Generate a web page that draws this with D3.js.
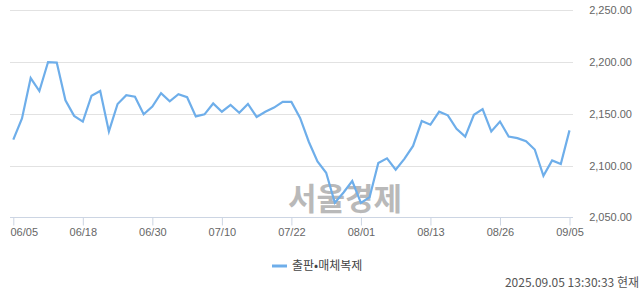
<html>
<head>
<meta charset="utf-8">
<script src="https://d3js.org/d3.v7.min.js"></script>
<style>
  body { margin: 0; background: #fff; }
  svg { display: block; }
</style>
</head>
<body>
<svg id="chart" width="640" height="294"></svg>
<script>
// trading days shown on the chart
var dates = ["06/05","06/09","06/10","06/11","06/12","06/13","06/16","06/17","06/18",
  "06/19","06/20","06/23","06/24","06/25","06/26","06/27","06/30",
  "07/01","07/02","07/03","07/04","07/07","07/08","07/09","07/10",
  "07/11","07/14","07/15","07/16","07/17","07/18","07/21","07/22",
  "07/23","07/24","07/25","07/28","07/29","07/30","07/31","08/01",
  "08/04","08/05","08/06","08/07","08/08","08/11","08/12","08/13",
  "08/14","08/18","08/19","08/20","08/21","08/22","08/25","08/26",
  "08/27","08/28","08/29","09/01","09/02","09/03","09/04","09/05"];

var values = [2125, 2145.5, 2184.5, 2172, 2200, 2199.5, 2163, 2148, 2142.5,
  2167.5, 2172, 2133, 2159.5, 2168, 2166.5, 2149.5, 2157,
  2170, 2162, 2169, 2166, 2147.5, 2149.5, 2160, 2152,
  2158.5, 2151, 2159.5, 2147, 2152, 2156, 2161.5, 2161.5,
  2146, 2123, 2104, 2093, 2064, 2074, 2085, 2064,
  2069.5, 2102.5, 2107, 2096, 2106.5, 2119, 2143, 2139.5,
  2152, 2148.5, 2135.5, 2128, 2149, 2154.5, 2133, 2142.5,
  2128, 2126.5, 2123.5, 2115.5, 2090, 2105, 2101.5, 2134];

var yTicks = [2050, 2100, 2150, 2200, 2250];
var xTickLabels = ["06/05","06/18","06/30","07/10","07/22","08/01","08/13","08/26","09/05"];
var seriesName = "출판•매체복제";
var stamp = "2025.09.05 13:30:33 현재";

var svg = d3.select("#chart");
var font = "'Liberation Sans', Arial, sans-serif";

var x = d3.scaleLinear().domain([0, dates.length - 1]).range([13.3, 569.5]);
var y = d3.scaleLinear().domain([2050, 2250]).range([217.3, 10.3]);

// grid lines
svg.append("g").selectAll("line")
  .data(yTicks.filter(function(d){ return d != 2050; }))
  .enter().append("line")
  .attr("x1", 10).attr("x2", 573)
  .attr("y1", function(d){ return Math.round(y(d)) + 0.5; })
  .attr("y2", function(d){ return Math.round(y(d)) + 0.5; })
  .attr("stroke", "#e2e2e2").attr("stroke-width", 1);

// y labels on the right
svg.append("g").selectAll("text")
  .data(yTicks).enter().append("text")
  .attr("x", 632)
  .attr("y", function(d){ return y(d) + 4; })
  .attr("text-anchor", "end")
  .attr("font-family", font).attr("font-size", 11)
  .attr("fill", "#666")
  .text(function(d){ return d3.format(",.2f")(d); });

// x axis
var xAxis = d3.axisBottom(x)
  .tickValues(xTickLabels.map(function(d){ return dates.indexOf(d); }))
  .tickFormat(function(i){ return dates[i]; })
  .tickSize(8).tickPadding(3).tickSizeOuter(0);

var gx = svg.append("g")
  .attr("transform", "translate(0," + (Math.round(y(2050)) + 0.5) + ")")
  .call(xAxis);
gx.select(".domain").attr("d", "M10,0H573").attr("stroke", "#ccd5e3");
gx.selectAll(".tick line").attr("stroke", "#ccd5e3");
gx.selectAll(".tick text")
  .attr("font-family", font).attr("font-size", 11).attr("fill", "#666");
// first label is pushed inside the left edge
gx.select(".tick text")
  .attr("text-anchor", "start")
  .attr("x", 10 - x(0));

// watermark
svg.append("text")
  .attr("x", 345).attr("y", 210)
  .attr("text-anchor", "middle")
  .attr("font-family", "'Noto Sans CJK KR', sans-serif")
  .attr("font-weight", "bold").attr("font-size", 31)
  .attr("fill", "#b9b9b9")
  .text("서울경제");

// the line
var line = d3.line()
  .x(function(d, i){ return x(i); })
  .y(function(d){ return y(d); });

svg.append("path")
  .datum(values)
  .attr("d", line)
  .attr("fill", "none")
  .attr("stroke", "#6eaeea")
  .attr("stroke-width", 2.2)
  .attr("stroke-linejoin", "miter");

// legend
svg.append("line")
  .attr("x1", 272).attr("x2", 287)
  .attr("y1", 266).attr("y2", 266)
  .attr("stroke", "#6eaeea").attr("stroke-width", 3);
svg.append("text")
  .attr("x", 292).attr("y", 270)
  .attr("font-family", "'Noto Sans CJK KR', sans-serif")
  .attr("font-size", 12).attr("fill", "#444")
  .text(seriesName);

svg.append("text")
  .attr("x", 639).attr("y", 287)
  .attr("text-anchor", "end")
  .attr("font-family", "'Noto Sans CJK KR', sans-serif")
  .attr("font-size", 12).attr("fill", "#555")
  .text(stamp);
</script>
</body>
</html>
